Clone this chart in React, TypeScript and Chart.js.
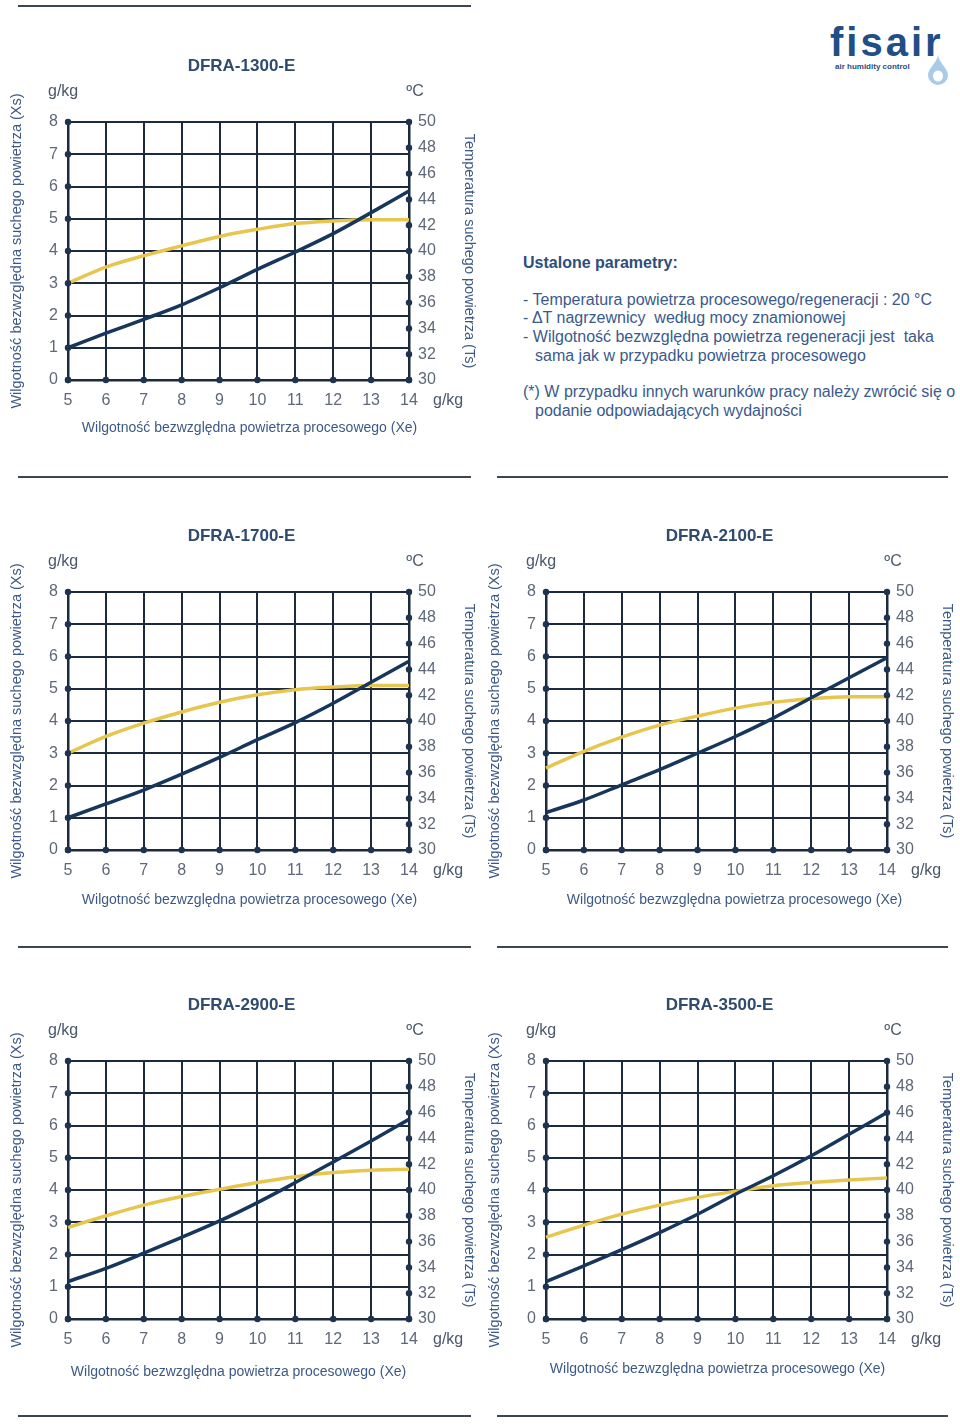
import React, { useEffect, useRef } from "react";
import { Chart, registerables } from "chart.js";

Chart.register(...registerables);

// ---------- DATA ----------
const processHumidity = [5, 6, 7, 8, 9, 10, 11, 12, 13, 14]; // Xe, g/kg

const dfra1300Xs = [1.0, 1.45, 1.88, 2.33, 2.86, 3.43, 3.97, 4.54, 5.19, 5.86];
const dfra1300Ts = [37.5, 38.75, 39.63, 40.4, 41.13, 41.68, 42.13, 42.33, 42.43, 42.43];

const dfra1700Xs = [1.0, 1.43, 1.86, 2.35, 2.87, 3.42, 3.95, 4.55, 5.2, 5.85];
const dfra1700Ts = [37.5, 38.8, 39.83, 40.7, 41.45, 42.03, 42.43, 42.63, 42.75, 42.75];

const dfra2100Xs = [1.16, 1.55, 2.02, 2.49, 3.0, 3.52, 4.09, 4.72, 5.34, 5.96];
const dfra2100Ts = [36.35, 37.65, 38.75, 39.68, 40.38, 41.0, 41.45, 41.73, 41.88, 41.88];

const dfra2900Xs = [1.16, 1.57, 2.04, 2.53, 3.04, 3.61, 4.23, 4.87, 5.52, 6.19];
const dfra2900Ts = [37.1, 38.0, 38.83, 39.5, 40.05, 40.58, 41.03, 41.35, 41.53, 41.6];

const dfra3500Xs = [1.16, 1.65, 2.15, 2.68, 3.25, 3.87, 4.44, 5.06, 5.73, 6.4];
const dfra3500Ts = [36.33, 37.28, 38.13, 38.83, 39.43, 39.9, 40.33, 40.58, 40.78, 40.93];

const xsAxisRange = [0, 8]; // g/kg
const tsAxisRange = [30, 50]; // °C
const xeAxisRange = [5, 14];

const modelNames = ["DFRA-1300-E", "DFRA-1700-E", "DFRA-2100-E", "DFRA-2900-E", "DFRA-3500-E"];

// ---------- STYLE ----------
const FONT = '"Liberation Sans", Arial, Helvetica, sans-serif';
const GRID = "#1b2a3e";
const DOT = "#1d3350";
const BLUE = "#17365c";
const YELLOW = "#e6c64e";
const TICK = "#5e6878";
const UNIT = "#4b586b";
const AXTITLE = "#3c5986";
const TITLE = "#2f4b6e";

const decoPlugin = {
  id: "deco",
  afterDraw(chart: any, _args: any, opts: any) {
    const { ctx, chartArea: ca, scales } = chart;
    const sy = scales.y;
    const sy1 = scales.y1;
    const sx = scales.x;
    ctx.save();
    // tick dots
    ctx.fillStyle = DOT;
    const dot = (x: number, y: number) => {
      ctx.beginPath();
      ctx.arc(x, y, 3.2, 0, Math.PI * 2);
      ctx.fill();
    };
    sy.ticks.forEach((t: any) => dot(ca.left, sy.getPixelForValue(t.value)));
    sy1.ticks.forEach((t: any) => dot(ca.right, sy1.getPixelForValue(t.value)));
    sx.ticks.forEach((t: any) => dot(sx.getPixelForValue(t.value), ca.bottom));

    const cx = (ca.left + ca.right) / 2;
    // chart title
    ctx.fillStyle = TITLE;
    ctx.font = `bold 17px ${FONT}`;
    ctx.textAlign = "center";
    ctx.textBaseline = "middle";
    ctx.fillText(opts.title, cx + opts.titleDx, ca.top - 56);
    // unit labels
    ctx.fillStyle = UNIT;
    ctx.font = `16px ${FONT}`;
    ctx.textAlign = "left";
    ctx.fillText("g/kg", ca.left - 20, ca.top - 30);
    ctx.textAlign = "center";
    ctx.fillText("ºC", ca.right + 6, ca.top - 30);
    ctx.textAlign = "left";
    ctx.fillText("g/kg", ca.right + 24, ca.bottom + 21);
    // x axis title
    ctx.fillStyle = AXTITLE;
    ctx.font = `14px ${FONT}`;
    ctx.textAlign = "center";
    ctx.fillText("Wilgotność bezwzględna powietrza procesowego (Xe)", cx + opts.xTitleDx, ca.bottom + opts.xTitleDy);
    ctx.restore();
  },
};

type ChartProps = {
  title: string;
  xs: number[];
  ts: number[];
  left: number;
  top: number;
  titleDx: number;
  xTitleDx: number;
  xTitleDy: number;
};

function HumidityChart(p: ChartProps) {
  const ref = useRef<HTMLCanvasElement | null>(null);
  useEffect(() => {
    if (!ref.current) return;
    const tickFont = { family: FONT, size: 16 };
    const chart = new Chart(ref.current, {
      type: "line",
      data: {
        datasets: [
          {
            label: "Xs",
            data: processHumidity.map((x, i) => ({ x, y: p.xs[i] })),
            xAxisID: "x",
            yAxisID: "y",
            borderColor: BLUE,
            borderWidth: 3.5,
            pointRadius: 0,
            cubicInterpolationMode: "monotone",
            fill: false,
            clip: 6,
          } as any,
          {
            label: "Ts",
            data: processHumidity.map((x, i) => ({ x, y: p.ts[i] })),
            xAxisID: "x",
            yAxisID: "y1",
            borderColor: YELLOW,
            borderWidth: 3.5,
            pointRadius: 0,
            cubicInterpolationMode: "monotone",
            fill: false,
            clip: 6,
          } as any,
        ],
      },
      options: {
        animation: false,
        responsive: false,
        maintainAspectRatio: false,
        layout: { padding: { top: 82, left: 0, right: 0, bottom: 0 } },
        plugins: {
          legend: { display: false },
          tooltip: { enabled: false },
          title: { display: false },
          deco: { title: p.title, titleDx: p.titleDx, xTitleDx: p.xTitleDx, xTitleDy: p.xTitleDy },
        } as any,
        scales: {
          x: {
            type: "linear",
            min: xeAxisRange[0],
            max: xeAxisRange[1],
            ticks: { stepSize: 1, padding: 11, color: TICK, font: tickFont, maxRotation: 0 },
            grid: { color: GRID, lineWidth: 2, drawTicks: false },
            border: { color: GRID, width: 2.5 },
            afterFit: (s: any) => {
              s.height = 100;
            },
          },
          y: {
            position: "left",
            min: xsAxisRange[0],
            max: xsAxisRange[1],
            ticks: { stepSize: 1, padding: 10, color: TICK, font: tickFont },
            grid: { color: GRID, lineWidth: 2, drawTicks: false },
            border: { color: GRID, width: 2.5 },
            title: {
              display: true,
              text: "Wilgotność bezwzględna suchego powietrza (Xs)",
              color: AXTITLE,
              font: { family: FONT, size: 14.5 },
              padding: { top: 8, bottom: 0 },
            },
            afterFit: (s: any) => {
              s.width = 68;
            },
          },
          y1: {
            position: "right",
            min: tsAxisRange[0],
            max: tsAxisRange[1],
            ticks: { stepSize: 2, padding: 9, color: TICK, font: tickFont },
            grid: { display: false, drawTicks: false },
            border: { color: GRID, width: 2.5 },
            title: {
              display: true,
              text: "Temperatura suchego powietrza (Ts)",
              color: AXTITLE,
              font: { family: FONT, size: 14.5 },
              padding: { top: 2, bottom: 0 },
            },
            afterFit: (s: any) => {
              s.width = 71;
            },
          },
        },
      } as any,
      plugins: [decoPlugin as any],
    });
    return () => chart.destroy();
  }, []);
  return (
    <canvas
      ref={ref}
      width={480}
      height={440}
      style={{ position: "absolute", left: p.left, top: p.top, width: 480, height: 440 }}
    />
  );
}

const Rule = ({ x1, x2, y }: { x1: number; x2: number; y: number }) => (
  <div style={{ position: "absolute", left: x1, top: y - 1, width: x2 - x1, height: 2, background: "#3b4652" }} />
);

const bodyText: React.CSSProperties = {
  position: "absolute",
  font: `16px ${FONT}`,
  color: "#3a5a8c",
  whiteSpace: "pre",
  lineHeight: "18px",
};

export default function App() {
  const cfg = [
    { xs: dfra1300Xs, ts: dfra1300Ts, left: 0, top: 40, xTitleDx: 11, xTitleDy: 48 },
    { xs: dfra1700Xs, ts: dfra1700Ts, left: 0, top: 510, xTitleDx: 11, xTitleDy: 50 },
    { xs: dfra2100Xs, ts: dfra2100Ts, left: 478, top: 510, xTitleDx: 18, xTitleDy: 50 },
    { xs: dfra2900Xs, ts: dfra2900Ts, left: 0, top: 979, xTitleDx: 0, xTitleDy: 53 },
    { xs: dfra3500Xs, ts: dfra3500Ts, left: 478, top: 979, xTitleDx: 1, xTitleDy: 50 },
  ];
  return (
    <div style={{ position: "absolute", left: 0, top: 0, width: 960, height: 1427, background: "#fff", overflow: "hidden" }}>
      <Rule x1={18} x2={471} y={6} />
      <Rule x1={18} x2={471} y={477} />
      <Rule x1={497} x2={948} y={477} />
      <Rule x1={18} x2={471} y={947} />
      <Rule x1={497} x2={948} y={947} />
      <Rule x1={18} x2={471} y={1416} />
      <Rule x1={497} x2={948} y={1416} />

      {cfg.map((c, i) => (
        <HumidityChart key={i} title={modelNames[i]} titleDx={3} {...c} />
      ))}

      {/* logo */}
      <div style={{ position: "absolute", left: 830, top: 20, font: `bold 40px ${FONT}`, color: "#1f4f86", letterSpacing: 3 }}>
        fisair
      </div>
      <div style={{ position: "absolute", left: 835, top: 62, font: `bold 8px ${FONT}`, color: "#1f4f86", whiteSpace: "pre" }}>
        air humidity control
      </div>
      <svg style={{ position: "absolute", left: 926, top: 54 }} width={24} height={32} viewBox="0 0 24 32">
        <path d="M12 0 C12 8 2 14 2 21 A10 10 0 0 0 22 21 C22 14 12 8 12 0 Z" fill="#a9cbe8" />
        <ellipse cx={12} cy={22} rx={5} ry={5.5} fill="#ffffff" />
      </svg>

      {/* parameters text */}
      <div style={{ ...bodyText, left: 523, top: 254, fontWeight: "bold", color: "#2e4d7c" }}>Ustalone parametry:</div>
      <div style={{ ...bodyText, left: 523, top: 291 }}>- Temperatura powietrza procesowego/regeneracji : 20 °C</div>
      <div style={{ ...bodyText, left: 523, top: 309 }}>- ΔT nagrzewnicy  według mocy znamionowej</div>
      <div style={{ ...bodyText, left: 523, top: 328 }}>- Wilgotność bezwzględna powietrza regeneracji jest  taka</div>
      <div style={{ ...bodyText, left: 535, top: 347 }}>sama jak w przypadku powietrza procesowego</div>
      <div style={{ ...bodyText, left: 523, top: 383 }}>(*) W przypadku innych warunków pracy należy zwrócić się o</div>
      <div style={{ ...bodyText, left: 535, top: 402 }}>podanie odpowiadających wydajności</div>
    </div>
  );
}
